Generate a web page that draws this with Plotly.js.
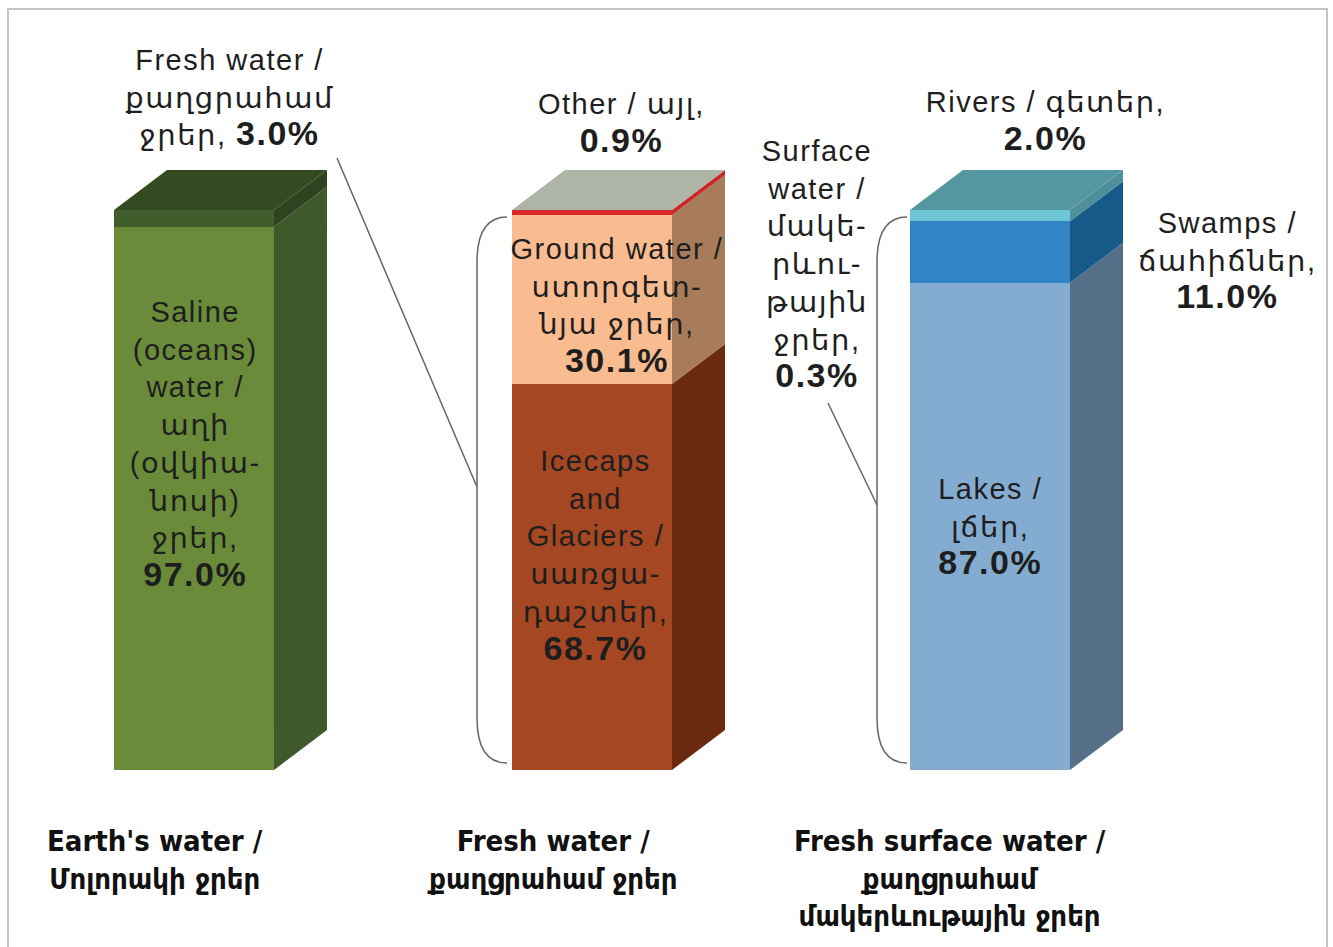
<!DOCTYPE html>
<html>
<head>
<meta charset="utf-8">
<script src="https://cdn.plot.ly/plotly-3.0.1.min.js"></script>
<style>
html,body{margin:0;padding:0;background:#fff}
#chart g.annotation text{letter-spacing:1.5px}
#chart g.annotation[data-index="9"] text,
#chart g.annotation[data-index="10"] text,
#chart g.annotation[data-index="11"] text{letter-spacing:0}
</style>
</head>
<body>
<div id="chart" style="width:1333px;height:947px"></div>
<script>
// ---------------- data ----------------
const categories = ["Earth's water / Մոլորակի ջրեր", "Fresh water / քաղցրահամ ջրեր", "Fresh surface water / քաղցրահամ մակերևութային ջրեր"];
const earthNames = ["Saline (oceans) water", "Fresh water"];
const earthValues = [97.0, 3.0];
const freshNames = ["Icecaps and Glaciers", "Ground water", "Other"];
const freshValues = [68.7, 30.1, 0.9];
const surfaceNames = ["Lakes", "Swamps", "Rivers"];
const surfaceValues = [87.0, 11.0, 2.0];
const surfaceShareOfFresh = [0.3];
const categoryLabels = ["Earth's water /<br>Մոլորակի ջրեր", "Fresh water /<br>քաղցրահամ ջրեր", "Fresh surface water /<br>քաղցրահամ<br>մակերևութային ջրեր"];

// ---------------- styles ----------------
const earthFront = ["#6a8c3a", "#3f5e2c"];
const earthSide  = ["#3f5a2a", "#2e4420"];
const earthTop   = "#344a20";
const freshFront = ["#a54722", "#f9bc90", "#d62a2a"];
const freshSide  = ["#6b2a10", "#a87c5a", "#c82828"];
const freshTop   = "#aeb5a6";
const surfFront  = ["#84acd1", "#3185c5", "#6ec6d6"];
const surfSide   = ["#546f87", "#155a88", "#4f8f99"];
const surfTop    = "#5597a0";

const W = 1333, H = 947;
const XR = [-0.4874, 2.8618];
const YR = [-31.61, 137.5];
const kx = W / (XR[1] - XR[0]);
const ky = H / (YR[1] - YR[0]);
const BW = 160 / kx;
const DX = 53 / kx, DY = 40 / ky;
const dX = p => XR[0] + p / kx;
const dY = p => YR[1] - p / ky;

const groups = [
  {values: earthValues, names: earthNames, front: earthFront, side: earthSide, top: earthTop},
  {values: freshValues, names: freshNames, front: freshFront, side: freshSide, top: freshTop},
  {values: surfaceValues, names: surfaceNames, front: surfFront, side: surfSide, top: surfTop}
];

const traces = [];
const shapes = [];
groups.forEach((g, i) => {
  const total = g.values.reduce((a, b) => a + b, 0);
  let cum = 0;
  const xL = i - BW / 2, xR = i + BW / 2;
  g.values.forEach((v, j) => {
    traces.push({type: 'bar', x: [i], y: [v], width: BW, name: g.names[j],
      marker: {color: g.front[j], line: {width: 0}}, hoverinfo: 'skip'});
    const lo = cum / total * 100, hi = (cum + v) / total * 100;
    cum += v;
    shapes.push({type: 'path', xref: 'x', yref: 'y', layer: 'above', line: {width: 0},
      fillcolor: g.side[j],
      path: `M ${xR},${lo} L ${xR + DX},${lo + DY} L ${xR + DX},${hi + DY} L ${xR},${hi} Z`});
  });
  shapes.push({type: 'path', xref: 'x', yref: 'y', layer: 'above', line: {width: 0},
    fillcolor: g.top,
    path: `M ${xL},100 L ${xL + DX},${100 + DY} L ${xR + DX},${100 + DY} L ${xR},100 Z`});
});

// brackets and connectors
const lineStyle = {color: '#666666', width: 1.5};
function bracket(xEdgePx) {
  const a = xEdgePx - 5, b = xEdgePx - 35;
  return {type: 'path', xref: 'x', yref: 'y', line: lineStyle, layer: 'above',
    path: `M ${dX(a)},${dY(217)} C ${dX(b + 8)},${dY(217)} ${dX(b)},${dY(235)} ${dX(b)},${dY(262)} ` +
          `L ${dX(b)},${dY(718)} C ${dX(b)},${dY(745)} ${dX(b + 8)},${dY(763)} ${dX(a)},${dY(763)}`};
}
shapes.push(bracket(512));
shapes.push(bracket(912));
shapes.push({type: 'line', xref: 'x', yref: 'y', line: lineStyle, x0: dX(337), y0: dY(158), x1: dX(477), y1: dY(487)});
shapes.push({type: 'line', xref: 'x', yref: 'y', line: lineStyle, x0: dX(828), y0: dY(403), x1: dX(877), y1: dY(505)});
// frame
shapes.push({type: 'rect', xref: 'paper', yref: 'paper', x0: 8 / W, x1: 1327 / W, y0: -0.05, y1: 1 - 9 / H,
  line: {color: '#c4c4c4', width: 2}, fillcolor: 'rgba(0,0,0,0)', layer: 'below'});

const pct = v => `<b><span style="font-size:34px">${v.toFixed(1)}%</span></b>`;
const FONT = 'Liberation Sans, Arial, DejaVu Sans, sans-serif';
function ann(text, xp, yp, extra) {
  return Object.assign({text: text, xref: 'paper', yref: 'paper', x: xp / W, y: 1 - yp / H,
    xanchor: 'center', yanchor: 'middle', showarrow: false, align: 'center',
    font: {family: FONT, size: 29, color: '#1e1e1e'}}, extra || {});
}
const annotations = [
  ann('Fresh water /<br>քաղցրահամ<br>ջրեր, ' + pct(earthValues[1]), 230, 98),
  ann('Other / այլ,<br>' + pct(freshValues[2]), 621, 124),
  ann('Surface<br>water /<br>մակե-<br>րևու-<br>թային<br>ջրեր,<br>' + pct(surfaceShareOfFresh[0]), 817, 265),
  ann('Rivers / գետեր,<br>' + pct(surfaceValues[2]), 1045, 122),
  ann('Swamps /<br>ճահիճներ,<br>' + pct(surfaceValues[1]), 1227, 261),
  ann('Saline<br>(oceans)<br>water /<br>աղի<br>(օվկիա-<br>նոսի)<br>ջրեր,<br>' + pct(earthValues[0]), 195, 444),
  ann('Ground water /<br>ստորգետ-<br>նյա ջրեր,<br>' + pct(freshValues[1]), 617, 306),
  ann('Icecaps<br>and<br>Glaciers /<br>սառցա-<br>դաշտեր,<br>' + pct(freshValues[0]), 595, 556),
  ann('Lakes /<br>լճեր,<br>' + pct(surfaceValues[0]), 990, 527)
];
const catX = [155, 552, 950], catY = [860, 860, 878];
categoryLabels.forEach((t, i) => {
  annotations.push(ann('<b>' + t + '</b>', catX[i], catY[i],
    {font: {family: 'Liberation Sans Narrow, DejaVu Sans Condensed, Arial Narrow, sans-serif', size: 29, color: '#111111'}}));
});

const layout = {
  width: W, height: H,
  margin: {l: 0, r: 0, t: 0, b: 0, pad: 0},
  paper_bgcolor: '#ffffff', plot_bgcolor: '#ffffff',
  barmode: 'stack', barnorm: 'percent', bargap: 0,
  showlegend: false,
  xaxis: {range: XR, visible: false, fixedrange: true},
  yaxis: {range: YR, visible: false, fixedrange: true},
  shapes: shapes,
  annotations: annotations
};
Plotly.newPlot('chart', traces, layout, {displayModeBar: false, staticPlot: true});
</script>
</body>
</html>
